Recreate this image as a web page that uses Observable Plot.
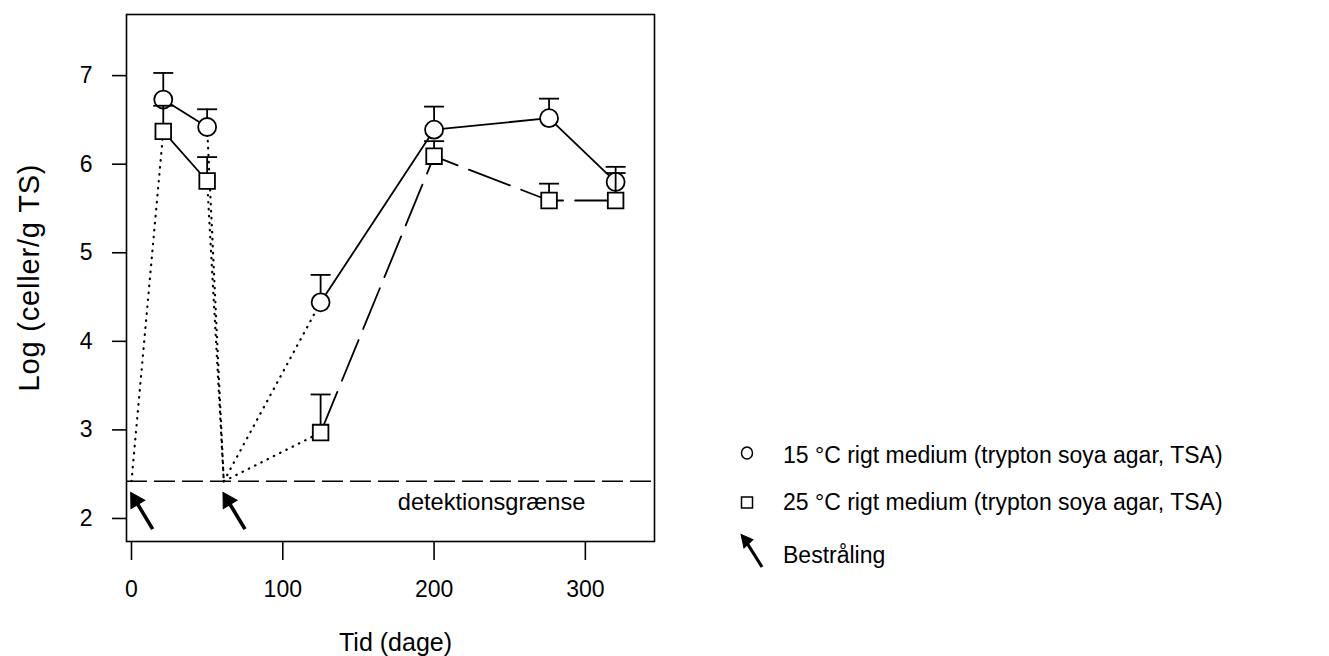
<!DOCTYPE html>
<html>
<head>
<meta charset="utf-8">
<script src="https://cdn.jsdelivr.net/npm/d3@7"></script>
<script src="https://cdn.jsdelivr.net/npm/@observablehq/plot@0.6"></script>
<style>
  html, body { margin: 0; padding: 0; background: #fff; }
  #wrap { position: relative; width: 1329px; height: 656px; font-family: "Liberation Sans", Arial, Helvetica, sans-serif; }
  #chart { position: absolute; left: 0; top: 0; }
  #legend { position: absolute; left: 700px; top: 0; }
</style>
</head>
<body>
<div id="wrap">
  <div id="chart"></div>
  <svg id="legend" width="629" height="656" font-family="Liberation Sans, Arial, Helvetica, sans-serif" font-size="23">
    <ellipse cx="47" cy="453" rx="5.5" ry="6" fill="none" stroke="black" stroke-width="1.5"></ellipse>
    <text x="83" y="463">15 °C rigt medium (trypton soya agar, TSA)</text>
    <rect x="41.5" y="497" width="11" height="11" fill="none" stroke="black" stroke-width="1.5"></rect>
    <text x="83" y="510">25 °C rigt medium (trypton soya agar, TSA)</text>
    <line x1="62" y1="567" x2="47" y2="543" stroke="black" stroke-width="3.2"></line>
    <path d="M42,534 L53,541 L43,548 Z" fill="black" stroke="black" stroke-width="1" transform="rotate(-8 44 541)"></path>
    <text x="83" y="563">Bestråling</text>
  </svg>
</div>
<script>
// Days of sampling and log counts (mean and upper error) for two incubation temperatures
const days = [21, 50, 125, 200, 276, 320];
const log15 = [6.73, 6.42, 4.44, 6.39, 6.52, 5.80];
const err15 = [0.30, 0.20, 0.31, 0.26, 0.22, 0.17];
const log25 = [6.37, 5.81, 2.97, 6.09, 5.59, 5.59];
const err25 = [0.29, 0.27, 0.43, 0.17, 0.19, 0.31];

// Irradiation events and detection limit
const irradiationDays = [0, 61];
const detectionLimit = 2.42;

const xTicks = [0, 100, 200, 300];
const yTicks = [2, 3, 4, 5, 6, 7];

const xLabel = "Tid (dage)";
const yLabel = "Log (celler/g TS)";
const limitLabel = "detektionsgrænse";

const rows = (vals, errs) => days.map((d, i) => ({
  day: d, value: vals[i], top: vals[i] + errs[i], phase: i < 2 ? "early" : "late"
}));
const rows15 = rows(log15, err15);
const rows25 = rows(log25, err25);

// Dotted connections to the detection limit around each irradiation
const dotted = [
  {x1: irradiationDays[0], y1: detectionLimit, x2: days[0], y2: log25[0]},
  {x1: days[1], y1: log15[1], x2: irradiationDays[1], y2: detectionLimit},
  {x1: days[1], y1: log25[1], x2: irradiationDays[1], y2: detectionLimit},
  {x1: irradiationDays[1], y1: detectionLimit, x2: days[2], y2: log15[2]},
  {x1: irradiationDays[1], y1: detectionLimit, x2: days[2], y2: log25[2]}
];

// Horizontal cap for error bars
const capSymbol = {
  draw(ctx, size) {
    const w = Math.sqrt(size / Math.PI);
    ctx.moveTo(-w, 0);
    ctx.lineTo(w, 0);
  }
};

const sw = 1.8;
const chart = Plot.plot({
  width: 700,
  height: 656,
  marginLeft: 126,
  marginRight: 46,
  marginTop: 14,
  marginBottom: 115,
  style: {fontFamily: "Liberation Sans, Arial, Helvetica, sans-serif", fontSize: "23px", color: "black", background: "white"},
  x: {domain: [-3.3, 345.7]},
  y: {domain: [1.74, 7.69]},
  marks: [
    Plot.axisX({ticks: xTicks, tickSize: 19, tickPadding: 20, tickFormat: d => String(d), strokeWidth: 1.6,
      label: xLabel, labelArrow: "none", labelAnchor: "center", labelOffset: 109}),
    Plot.axisY({ticks: yTicks, tickSize: 14, tickPadding: 20, tickFormat: d => String(d), strokeWidth: 1.6,
      label: yLabel, labelArrow: "none", labelAnchor: "center", labelOffset: 108}),
    Plot.ruleY([detectionLimit], {stroke: "black", strokeWidth: 1.6, strokeDasharray: "21,7"}),
    Plot.text([limitLabel], {x: 238, y: detectionLimit - 0.24, text: d => d, fontSize: 23.6, fill: "black"}),
    // irradiation arrows
    Plot.link(irradiationDays, {x1: d => d + 14, y1: () => detectionLimit - 0.54, x2: d => d + 2, y2: () => detectionLimit - 0.2,
      stroke: "black", strokeWidth: 3.6}),
    Plot.dot(irradiationDays, {x: d => d, y: () => detectionLimit - 0.14, dx: 4, dy: 6.7, symbol: "triangle", r: 6, rotate: -31,
      fill: "black", stroke: "black", strokeWidth: 1}),
    // connecting lines
    Plot.link(dotted, {x1: "x1", y1: "y1", x2: "x2", y2: "y2", stroke: "black", strokeWidth: 2.2, strokeDasharray: "0.5,6.5", strokeLinecap: "round"}),
    Plot.line(rows15, {x: "day", y: "value", z: "phase", stroke: "black", strokeWidth: sw}),
    Plot.line(rows25.filter(d => d.phase === "early"), {x: "day", y: "value", stroke: "black", strokeWidth: sw}),
    Plot.line(rows25.filter(d => d.phase === "late"), {x: "day", y: "value", stroke: "black", strokeWidth: sw, strokeDasharray: "44,12"}),
    // 15 °C error bars and markers
    Plot.ruleX(rows15, {x: "day", y1: "value", y2: "top", stroke: "black", strokeWidth: sw}),
    Plot.dot(rows15, {x: "day", y: "top", symbol: capSymbol, r: 10, fill: "none", stroke: "black", strokeWidth: sw}),
    Plot.dot(rows15, {x: "day", y: "value", symbol: "circle", r: 9, fill: "white", stroke: "black", strokeWidth: sw}),
    // 25 °C error bars and markers
    Plot.ruleX(rows25, {x: "day", y1: "value", y2: "top", stroke: "black", strokeWidth: sw}),
    Plot.dot(rows25, {x: "day", y: "top", symbol: capSymbol, r: 10, fill: "none", stroke: "black", strokeWidth: sw}),
    Plot.dot(rows25, {x: "day", y: "value", symbol: "square", r: 8.8, fill: "white", stroke: "black", strokeWidth: sw}),
    Plot.frame({stroke: "black", strokeWidth: 1.6})
  ]
});
document.getElementById("chart").appendChild(chart);

// Axis title sizes (and plain titles without direction arrows)
const svg = d3.select(chart);
svg.selectAll('[aria-label="x-axis label"] text').text(xLabel).attr("font-size", 25).attr("dx", 5);
svg.selectAll('[aria-label="y-axis label"] text').text(yLabel).attr("font-size", 29)
  .attr("textLength", 227).attr("lengthAdjust", "spacing");
</script>
</body>
</html>
